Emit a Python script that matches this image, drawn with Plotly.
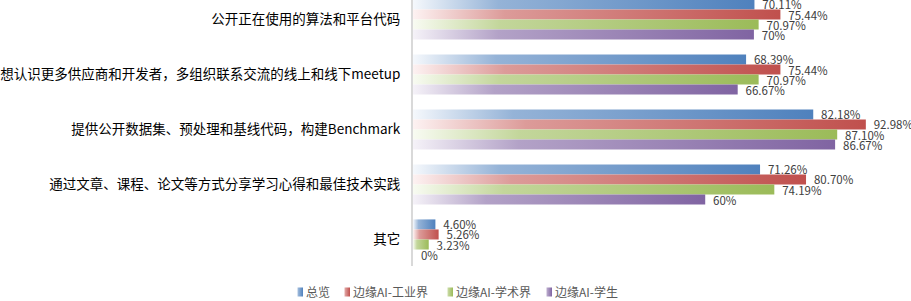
import plotly.graph_objects as go

categories = [
    "公开正在使用的算法和平台代码",
    "想认识更多供应商和开发者，多组织联系交流的线上和线下meetup",
    "提供公开数据集、预处理和基线代码，构建Benchmark",
    "通过文章、课程、论文等方式分享学习心得和最佳技术实践",
    "其它",
]
series_names = ["总览", "边缘AI-工业界", "边缘AI-学术界", "边缘AI-学生"]
overview = [70.11, 68.39, 82.18, 71.26, 4.60]
industry = [75.44, 75.44, 92.98, 80.70, 5.26]
academia = [70.97, 70.97, 87.10, 74.19, 3.23]
students = [70.00, 66.67, 86.67, 60.00, 0.00]
series_values = [overview, industry, academia, students]
base_colors = ["#4F81BD", "#C0504D", "#9BBB59", "#8064A2"]
grad_stops = [
    ["#f5f8fc", "#95b3d7", "#4f81bd"],
    ["#fdf2f2", "#dc9b99", "#c0504d"],
    ["#f8fbf2", "#c3d69b", "#9bbb59"],
    ["#f5f2f8", "#b3a2c7", "#8064a2"],
]
legend_widths = [2, 58, 54, 72]


def fmt(v):
    s = f"{v:.0f}%" if float(v).is_integer() else f"{v:.2f}%"
    return "\u00a0\u2009" + s


fig = go.Figure()
for name, vals, col, lw in zip(series_names, series_values, base_colors, legend_widths):
    fig.add_trace(go.Bar(
        y=categories, x=vals, name=name, orientation="h",
        marker=dict(color=col, line=dict(width=0)),
        text=[fmt(v) for v in vals], textposition="outside",
        textfont=dict(size=11.5, color="#404040", family="Noto Sans CJK SC"),
        constraintext="none", cliponaxis=False, legendwidth=lw,
    ))

fig.update_layout(
    width=911, height=301,
    margin=dict(l=410, r=10, t=0, b=35),
    paper_bgcolor="white", plot_bgcolor="white",
    barmode="group", bargap=0.27, bargroupgap=0,
    font=dict(family="Noto Sans CJK SC", size=13, color="#000000"),
    xaxis=dict(range=[0, 100.2], visible=False, showgrid=False, zeroline=False),
    yaxis=dict(
        range=[4.482, -0.355], showgrid=False, zeroline=False,
        showline=True, linecolor="#d9d9d9", linewidth=2,
        ticks="", ticklabelstandoff=8,
        tickfont=dict(size=13.5, color="#000000", family="Noto Sans CJK SC"),
    ),
    legend=dict(
        orientation="h", xref="container", yref="container",
        x=266 / 911, xanchor="left", y=0.03, yanchor="middle",
        font=dict(size=12, color="#595959", family="Noto Sans CJK SC"),
        itemwidth=30, traceorder="normal",
    ),
    showlegend=True,
)

stops_js = str(grad_stops)
post = """
var gd = document.getElementById('{plot_id}');
var stops = %s;
function applyGrad(){
  var svg = gd.querySelector('svg.main-svg');
  if (!svg) return;
  var ns = 'http://www.w3.org/2000/svg';
  var defs = svg.querySelector('defs');
  if (!defs) { defs = document.createElementNS(ns, 'defs'); svg.insertBefore(defs, svg.firstChild); }
  for (var i = 0; i < stops.length; i++) {
    var id = 'bargrad' + i;
    if (!document.getElementById(id)) {
      var lg = document.createElementNS(ns, 'linearGradient');
      lg.setAttribute('id', id);
      lg.setAttribute('x1', '0'); lg.setAttribute('y1', '0');
      lg.setAttribute('x2', '1'); lg.setAttribute('y2', '0');
      var offs = [0, 0.25, 1];
      for (var k = 0; k < 3; k++) {
        var s = document.createElementNS(ns, 'stop');
        s.setAttribute('offset', offs[k]);
        s.setAttribute('stop-color', stops[i][k]);
        lg.appendChild(s);
      }
      defs.appendChild(lg);
    }
  }
  var traces = gd.querySelectorAll('.barlayer .trace');
  traces.forEach(function(t, i){
    t.querySelectorAll('.point path').forEach(function(p){ p.style.fill = 'url(#bargrad' + i + ')'; });
  });
  var leg = gd.querySelectorAll('.legend .traces');
  leg.forEach(function(t, i){
    t.querySelectorAll('.legendpoints path').forEach(function(p){
      p.style.fill = 'url(#bargrad' + i + ')';
      p.setAttribute('d', 'M3,4.5H-3V-4.5H3Z');
      var cur = p.getAttribute('transform') || '';
      if (cur.indexOf('translate(14,0)') !== 0) p.setAttribute('transform', 'translate(14,0) ' + cur);
    });
  });
}
applyGrad();
gd.on('plotly_afterplot', applyGrad);
""" % stops_js

fig.write_html("out.html", post_script=post)
